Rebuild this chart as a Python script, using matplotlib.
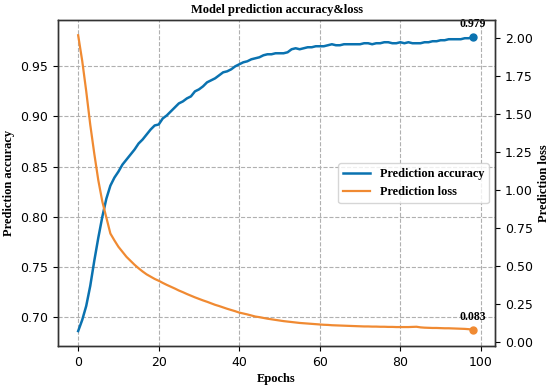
import matplotlib
matplotlib.use("Agg")
import matplotlib.pyplot as plt
import numpy as np

epochs = list(range(99))
accuracy = [
    0.686, 0.697, 0.711, 0.731, 0.756, 0.779, 0.800, 0.818, 0.831, 0.839,
    0.845, 0.852, 0.857, 0.862, 0.867, 0.873, 0.877, 0.882, 0.887, 0.891,
    0.892, 0.898, 0.901, 0.905, 0.909, 0.913, 0.915, 0.918, 0.920, 0.925,
    0.927, 0.930, 0.934, 0.936, 0.938, 0.941, 0.944, 0.945, 0.947, 0.950,
    0.952, 0.954, 0.955, 0.957, 0.958, 0.959, 0.961, 0.962, 0.962, 0.963,
    0.963, 0.963, 0.964, 0.967, 0.968, 0.967, 0.968, 0.969, 0.969, 0.970,
    0.970, 0.970, 0.971, 0.972, 0.971, 0.971, 0.972, 0.972, 0.972, 0.972,
    0.972, 0.973, 0.973, 0.972, 0.973, 0.973, 0.974, 0.974, 0.973, 0.973,
    0.974, 0.973, 0.974, 0.973, 0.973, 0.973, 0.974, 0.974, 0.975, 0.975,
    0.976, 0.976, 0.977, 0.977, 0.977, 0.977, 0.978, 0.978, 0.979,
]
loss = [
    2.017, 1.850, 1.650, 1.430, 1.240, 1.065, 0.925, 0.820, 0.715, 0.670,
    0.628, 0.595, 0.562, 0.536, 0.510, 0.487, 0.466, 0.447, 0.432, 0.417,
    0.405, 0.391, 0.378, 0.366, 0.354, 0.341, 0.330, 0.318, 0.307, 0.296,
    0.286, 0.276, 0.267, 0.257, 0.247, 0.239, 0.230, 0.221, 0.213, 0.205,
    0.196, 0.190, 0.184, 0.177, 0.170, 0.166, 0.161, 0.156, 0.152, 0.148,
    0.144, 0.140, 0.137, 0.134, 0.131, 0.128, 0.126, 0.124, 0.122, 0.120,
    0.118, 0.116, 0.115, 0.113, 0.112, 0.111, 0.110, 0.109, 0.108, 0.107,
    0.106, 0.105, 0.105, 0.104, 0.104, 0.103, 0.103, 0.102, 0.102, 0.101,
    0.101, 0.101, 0.101, 0.102, 0.103, 0.099, 0.097, 0.096, 0.095, 0.095,
    0.094, 0.093, 0.093, 0.092, 0.091, 0.090, 0.089, 0.087, 0.083,
]
acc_label = "Prediction accuracy"
loss_label = "Prediction loss"
title = "Model prediction accuracy&loss"

blue = "#0a72b0"
orange = "#f08a32"
serif = "Liberation Serif"

fig = plt.figure(figsize=(5.5, 3.88), dpi=100)
ax = fig.add_axes([0.1055, 0.108, 0.7945, 0.84])
ax2 = ax.twinx()

l1, = ax.plot(epochs, accuracy, color=blue, lw=1.8, label=acc_label)
ax.plot(epochs[-1], accuracy[-1], "o", color=blue, ms=5)
l2, = ax2.plot(epochs, loss, color=orange, lw=1.6, label=loss_label)
ax2.plot(epochs[-1], loss[-1], "o", color=orange, ms=5)

ax.annotate(f"{accuracy[-1]:.3f}", (epochs[-1], accuracy[-1]), xytext=(0, 5),
            textcoords="offset points", ha="center", va="bottom",
            fontfamily=serif, fontweight="bold", fontsize=8.5)
ax2.annotate(f"{loss[-1]:.3f}", (epochs[-1], loss[-1]), xytext=(0, 5),
             textcoords="offset points", ha="center", va="bottom",
             fontfamily=serif, fontweight="bold", fontsize=8.5)

ax.set_xlim(-5, 103.5)
ax.set_ylim(0.671, 0.996)
ax2.set_ylim(-0.024, 2.116)
ax.set_xticks([0, 20, 40, 60, 80, 100])
ax.set_yticks([0.70, 0.75, 0.80, 0.85, 0.90, 0.95])
ax2.set_yticks([0.0, 0.25, 0.5, 0.75, 1.0, 1.25, 1.5, 1.75, 2.0])
ax.yaxis.set_major_formatter(matplotlib.ticker.FormatStrFormatter("%.2f"))
ax2.yaxis.set_major_formatter(matplotlib.ticker.FormatStrFormatter("%.2f"))
ax.tick_params(labelsize=9)
ax2.tick_params(labelsize=9)
ax.grid(True, linestyle="--", color="#b0b0b0", lw=0.8)

for a in (ax, ax2):
    for s in a.spines.values():
        s.set_color("#333333")
        s.set_linewidth(1.0)

ax.set_title(title, fontfamily=serif, fontweight="bold", fontsize=9, pad=5)
ax.set_xlabel("Epochs", fontfamily=serif, fontweight="bold", fontsize=9, labelpad=3)
ax.set_ylabel(acc_label, fontfamily=serif, fontweight="bold", fontsize=9)
ax2.set_ylabel(loss_label, fontfamily=serif, fontweight="bold", fontsize=9)

ax2.legend(handles=[l1, l2], loc="center right", prop={"family": serif, "weight": "bold", "size": 8.8},
           framealpha=0.8, handlelength=2.2)

fig.savefig("out.png", dpi=100)
